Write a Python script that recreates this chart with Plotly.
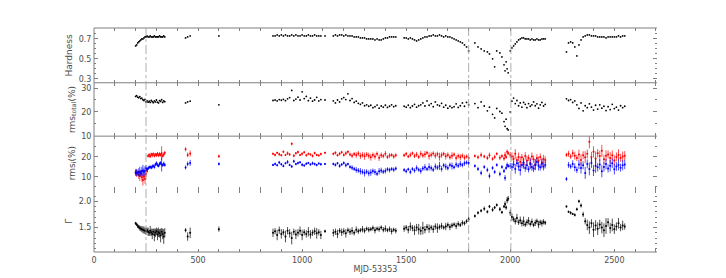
import plotly.graph_objects as go
from plotly.subplots import make_subplots

# ---------------- data ----------------
mjd = [
    200, 205, 210, 215, 220, 225, 230, 235, 240, 245, 250, 255, 260, 265, 270, 275, 280, 285, 290, 295,
    300, 305, 310, 315, 320, 325, 330, 335, 340,
    440, 450, 462,
    600,
    860, 870, 880, 890, 900, 910, 920, 930, 940, 950, 960, 970, 980, 990, 1000, 1010, 1020, 1030, 1040,
    1050, 1060, 1070, 1080, 1090,
    1110,
    1150, 1160, 1170, 1180, 1190, 1200, 1210, 1220, 1230, 1240, 1250, 1260, 1270, 1280, 1290, 1300,
    1310, 1320, 1330, 1340, 1350, 1360, 1370, 1380, 1390, 1400, 1410, 1420, 1430, 1440, 1450,
    1490, 1500, 1510, 1520, 1530, 1540, 1550, 1560, 1570, 1580, 1590, 1600, 1610, 1620, 1630, 1640,
    1650, 1660, 1670, 1680, 1690, 1700, 1710, 1720, 1730, 1740, 1750, 1760, 1770, 1780, 1790, 1800,
    1830, 1845, 1860, 1875, 1890, 1900, 1915, 1925, 1935, 1950, 1960, 1970, 1975, 1980, 1985, 1990,
    2000, 2008, 2016, 2024, 2032, 2040, 2048, 2056, 2064, 2072, 2080, 2088, 2096, 2104, 2112, 2120,
    2128, 2136, 2144, 2152, 2160, 2168,
    2270, 2280, 2290, 2300, 2310, 2320, 2330, 2340, 2350, 2360, 2370, 2380, 2390, 2400, 2410, 2420,
    2430, 2440, 2450, 2460, 2470, 2480, 2490, 2500, 2510, 2520, 2530, 2540, 2550,
]

hardness = [
    0.63, 0.64, 0.66, 0.67, 0.68, 0.69, 0.70, 0.70, 0.71, 0.72, 0.72, 0.73, 0.72, 0.72, 0.73, 0.72, 0.72, 0.72, 0.73, 0.72,
    0.72, 0.72, 0.72, 0.73, 0.72, 0.72, 0.72, 0.73, 0.72,
    0.71, 0.72, 0.73,
    0.73,
    0.73, 0.73, 0.74, 0.73, 0.74, 0.73, 0.74, 0.73, 0.73, 0.74, 0.73, 0.74, 0.73, 0.73, 0.74, 0.73, 0.73, 0.74, 0.73,
    0.73, 0.74, 0.73, 0.73, 0.73,
    0.73,
    0.73, 0.74, 0.73, 0.74, 0.74, 0.73, 0.74, 0.73, 0.73, 0.73, 0.72, 0.72, 0.72, 0.71, 0.71, 0.71,
    0.70, 0.70, 0.70, 0.70, 0.69, 0.70, 0.69, 0.69, 0.70, 0.71, 0.71, 0.72, 0.72, 0.72, 0.72,
    0.71, 0.71, 0.70, 0.71, 0.70, 0.69, 0.68, 0.69, 0.70, 0.71, 0.72, 0.72, 0.73, 0.73, 0.74, 0.73,
    0.73, 0.74, 0.73, 0.72, 0.73, 0.72, 0.72, 0.71, 0.70, 0.69, 0.68, 0.67, 0.66, 0.64, 0.62, 0.58,
    0.66, 0.62, 0.60, 0.58, 0.57, 0.55, 0.50, 0.42, 0.58, 0.56, 0.52, 0.44, 0.38, 0.47, 0.40, 0.36,
    0.58, 0.61, 0.63, 0.65, 0.67, 0.69, 0.70, 0.71, 0.71, 0.70, 0.70, 0.70, 0.69, 0.70, 0.69, 0.69,
    0.70, 0.69, 0.69, 0.70, 0.70, 0.70,
    0.57, 0.66, 0.67, 0.66, 0.62, 0.53, 0.64, 0.69, 0.72, 0.73, 0.74, 0.74, 0.73, 0.73, 0.73, 0.72,
    0.72, 0.72, 0.72, 0.71, 0.72, 0.72, 0.72, 0.72, 0.72, 0.73, 0.72, 0.73, 0.73,
]

rms_total = [
    26.5, 26.8, 26.2, 25.9, 26.4, 25.6, 25.8, 25.1, 24.8, 25.3, 24.2, 24.6, 24.1, 24.5, 24.0, 24.8, 24.3, 23.9, 24.6, 24.2,
    25.0, 24.1, 23.8, 24.7, 24.4, 25.1, 24.0, 24.6, 24.3,
    23.8, 24.2, 24.5,
    23.0,
    24.8, 25.0, 24.6, 25.2, 24.9, 25.3, 24.7, 25.5, 26.0, 29.0, 24.8, 25.4, 26.2, 25.0, 28.4, 25.6, 26.5, 24.7, 25.8,
    24.5, 25.0, 26.1, 24.6, 25.2,
    25.0,
    24.6, 23.8, 25.0, 24.2, 25.5, 26.0, 25.2, 27.6, 24.8, 25.6, 24.0, 24.5, 23.6, 23.2, 23.8, 22.6,
    23.0, 22.4, 22.8, 21.8, 22.2, 22.9, 21.6, 22.5, 22.0, 22.8, 21.9, 22.4, 23.0, 22.2, 22.6,
    22.4, 22.0, 22.8, 21.8, 22.5, 23.2, 22.0, 22.6, 23.0, 23.8, 22.5, 24.6, 22.8, 23.5, 22.2, 24.2,
    23.0, 22.6, 23.6, 22.0, 22.8, 21.6, 22.4, 21.8, 22.2, 23.4, 21.9, 22.6, 23.8, 22.4, 24.0, 23.0,
    23.5, 21.8, 24.2, 22.5, 20.5, 22.0, 19.0, 17.5, 21.5, 20.2, 19.5, 16.0, 14.0, 17.0, 13.0, 12.5,
    20.0, 24.5, 25.8, 23.5, 24.8, 22.6, 23.8, 22.0, 24.0, 23.2, 21.8, 23.5, 22.4, 23.0, 24.2, 22.6,
    23.4, 21.6, 23.0, 24.0, 22.5, 23.2,
    25.5, 24.8, 25.2, 24.0, 24.6, 23.0, 21.5, 23.8, 20.5, 22.6, 21.8, 23.4, 22.0, 20.8, 22.8, 21.2,
    23.0, 21.6, 22.4, 20.6, 22.2, 21.0, 23.2, 21.4, 22.0, 20.8, 22.6, 21.8, 22.4,
]

rms_hard = [
    12.5, 11.8, 12.2, 11.0, 10.5, 11.6, 9.8, 8.5, 10.2, 9.0, 11.5, 13.0, 20.5, 21.0, 20.2, 21.3, 20.8, 21.5, 20.6, 21.2,
    20.9, 21.6, 20.7, 21.4, 21.0, 21.8, 20.5, 21.2, 22.0,
    23.8, 21.0, 21.7,
    20.3,
    21.5, 21.0, 22.0, 21.3, 20.8, 22.5, 21.0, 21.8, 21.2, 26.5, 20.6, 21.8, 22.4, 20.9, 21.5, 22.3, 20.8, 21.6, 21.2,
    20.5, 21.9, 21.0, 20.7, 21.4,
    22.0,
    21.5, 22.0, 20.8, 21.6, 22.3, 21.0, 21.8, 22.5, 21.2, 20.6, 21.4, 20.9, 21.7, 20.5, 21.0, 20.3,
    21.2, 20.6, 19.8, 20.9, 20.2, 21.5, 19.6, 20.8, 20.4, 21.6, 19.9, 20.7, 21.0, 20.2, 20.8,
    20.8, 21.5, 20.2, 21.0, 21.8, 20.5, 21.2, 20.0, 21.6, 20.7, 21.3, 22.0, 20.4, 21.0, 21.7, 20.6,
    21.4, 20.1, 20.9, 21.5, 20.3, 21.0, 19.8, 20.6, 21.2, 19.5, 20.4, 19.8, 20.6, 19.6, 20.2, 19.4,
    20.5, 19.8, 21.0, 20.2, 19.5, 20.8, 19.0, 20.0, 21.5, 19.6, 20.4, 19.2, 21.0, 20.0, 22.5, 21.8,
    21.0, 20.2, 19.0, 21.5, 18.5, 20.0, 17.5, 19.8, 16.5, 20.5, 18.2, 19.5, 17.0, 20.2, 18.8, 16.2,
    19.5, 18.0, 20.0, 17.2, 19.0, 18.5,
    21.0, 21.5, 20.2, 21.8, 20.6, 19.5, 21.2, 18.5, 20.8, 19.8, 21.5, 27.5, 20.0, 22.5, 19.2, 21.8,
    20.5, 23.0, 18.8, 20.6, 21.2, 19.5, 20.8, 18.2, 20.0, 21.0, 19.5, 20.2, 20.6,
]

rms_soft = [
    12.0, 12.2, 11.8, 12.3, 12.6, 12.0, 12.8, 13.2, 12.5, 13.0, 14.5, 13.8, 14.2, 14.8, 15.0, 14.6, 15.2, 15.5, 15.0, 16.2,
    16.8, 16.0, 15.5, 16.5, 17.0, 16.2, 15.8, 16.6, 16.0,
    14.7, 16.5, 17.0,
    16.5,
    16.0, 16.5, 15.8, 17.2, 16.3, 15.5, 16.8, 17.5, 16.0, 15.2, 17.8, 16.4, 16.9, 17.3, 16.1, 15.7, 16.6, 17.0, 16.2,
    16.8, 16.4, 15.9, 16.7, 16.3,
    16.5,
    16.5, 16.0, 16.8, 15.5, 16.2, 17.0, 15.8, 16.4, 15.0, 14.6, 14.0, 13.5, 13.2, 12.8, 12.5, 12.0,
    12.6, 11.8, 12.2, 12.9, 12.4, 11.6, 12.8, 13.2, 12.6, 13.0, 13.8, 13.4, 14.0, 13.6, 14.2,
    13.5, 12.8, 13.8, 12.5, 14.0, 13.2, 14.5, 13.6, 13.0, 14.2, 14.8, 13.9, 15.0, 14.4, 13.6, 15.2,
    14.6, 15.5, 14.0, 15.8, 15.1, 14.5, 16.0, 15.4, 14.8, 16.2, 15.6, 16.5, 15.9, 16.8, 17.2, 17.0,
    15.5, 14.0, 12.0, 15.0, 13.5, 10.5, 14.5, 12.5, 16.0, 11.5, 15.0, 13.0, 9.5, 14.5, 16.0, 15.5,
    15.5, 15.0, 16.2, 14.0, 16.8, 15.2, 13.5, 16.0, 17.2, 14.5, 15.8, 13.8, 16.5, 15.0, 14.2, 16.0,
    17.5, 15.4, 14.8, 16.6, 15.2, 16.0,
    9.0, 16.0, 15.2, 16.5, 14.8, 13.5, 16.2, 14.5, 15.8, 12.0, 16.5, 14.0, 17.0, 13.2, 15.5, 14.8,
    16.2, 12.8, 15.0, 16.4, 14.2, 15.6, 16.8, 13.8, 15.2, 16.0, 14.6, 15.8, 16.2,
]

rms_err = [
    1.5, 1.8, 1.2, 2.0, 2.5, 1.6, 2.2, 2.8, 1.8, 2.4, 1.5, 1.0, 0.8, 0.9, 0.7, 0.8, 1.0, 0.7, 0.9, 0.8,
    1.0, 0.9, 0.8, 1.0, 0.9, 3.5, 0.8, 1.0, 0.9,
    1.0, 1.2, 1.5,
    0.8,
    0.6, 0.7, 0.5, 0.8, 0.6, 0.7, 0.5, 0.9, 0.6, 0.7, 0.8, 0.6, 0.7, 0.5, 0.8, 0.6, 0.7, 0.5, 0.6,
    0.8, 0.7, 0.6, 0.5, 0.7,
    0.5,
    0.7, 0.8, 0.6, 0.9, 0.7, 0.8, 1.0, 0.7, 0.9, 1.2, 1.0, 1.4, 1.2, 1.6, 1.3, 1.8,
    1.2, 1.5, 1.7, 1.3, 1.5, 1.2, 1.6, 1.4, 1.1, 1.3, 1.0, 1.2, 0.9, 1.1, 1.0,
    0.9, 1.0, 0.8, 1.2, 0.9, 1.1, 1.3, 1.0, 1.4, 1.2, 1.6, 1.0, 1.8, 1.3, 1.1, 1.5,
    1.2, 2.0, 1.4, 1.1, 1.6, 1.3, 1.2, 1.7, 1.0, 1.4, 1.2, 1.5, 1.1, 1.3, 1.0, 1.2,
    0.8, 1.0, 1.2, 0.9, 1.1, 1.3, 0.9, 1.0, 0.8, 1.2, 0.9, 1.1, 1.4, 1.0, 1.2, 1.0,
    1.5, 2.0, 1.8, 2.4, 1.6, 2.2, 2.8, 1.7, 2.5, 1.9, 2.3, 1.6, 2.6, 2.0, 1.8, 2.7,
    1.9, 2.2, 1.7, 2.4, 2.0, 1.8,
    1.0, 1.5, 1.2, 1.8, 2.0, 1.6, 2.4, 2.8, 2.0, 3.0, 2.2, 3.2, 2.5, 2.8, 3.5, 2.1,
    2.6, 3.0, 2.3, 2.7, 2.0, 2.9, 2.4, 2.6, 2.2, 2.8, 2.0, 2.5, 2.3,
]

gamma = [
    1.58, 1.56, 1.53, 1.51, 1.49, 1.48, 1.47, 1.46, 1.45, 1.44, 1.43, 1.45, 1.42, 1.40, 1.44, 1.41, 1.38, 1.42, 1.36, 1.40,
    1.43, 1.37, 1.41, 1.39, 1.35, 1.42, 1.38, 1.33, 1.40,
    1.45, 1.33, 1.40,
    1.47,
    1.40, 1.43, 1.36, 1.45, 1.38, 1.41, 1.33, 1.44, 1.39, 1.30, 1.42, 1.37, 1.40, 1.44, 1.36, 1.41, 1.38, 1.42, 1.37,
    1.40, 1.43, 1.39, 1.41, 1.36,
    1.43,
    1.40, 1.42, 1.38, 1.44, 1.41, 1.43, 1.39, 1.45, 1.42, 1.44, 1.40, 1.46, 1.43, 1.45, 1.47, 1.44,
    1.48, 1.46, 1.47, 1.49, 1.45, 1.48, 1.47, 1.50, 1.46, 1.48, 1.45, 1.47, 1.43, 1.46, 1.44,
    1.48, 1.50, 1.46, 1.52, 1.49, 1.45, 1.50, 1.47, 1.44, 1.49, 1.46, 1.51, 1.48, 1.50, 1.47, 1.52,
    1.49, 1.51, 1.53, 1.50, 1.52, 1.55, 1.51, 1.54, 1.56, 1.53, 1.57, 1.55, 1.59, 1.58, 1.62, 1.66,
    1.72, 1.78, 1.82, 1.86, 1.80, 1.90, 1.84, 1.88, 1.93, 1.85, 1.79, 1.90, 1.95, 1.88, 2.02, 2.05,
    1.78, 1.70, 1.66, 1.62, 1.68, 1.60, 1.64, 1.58, 1.62, 1.56, 1.60, 1.63, 1.57, 1.61, 1.55, 1.59,
    1.62, 1.56, 1.60, 1.58, 1.61, 1.59,
    1.90, 1.80, 1.78, 1.76, 1.74, 1.85, 2.00, 1.92, 1.75, 1.62, 1.55, 1.50, 1.58, 1.46, 1.54, 1.48,
    1.56, 1.50, 1.45, 1.53, 1.60, 1.49, 1.55, 1.47, 1.52, 1.58, 1.50, 1.54, 1.52,
]

gamma_err = [
    0.03, 0.03, 0.04, 0.04, 0.05, 0.05, 0.06, 0.06, 0.07, 0.06, 0.07, 0.05, 0.08, 0.06, 0.09, 0.07, 0.10, 0.06, 0.12, 0.08,
    0.07, 0.11, 0.09, 0.08, 0.13, 0.07, 0.10, 0.14, 0.09,
    0.04, 0.08, 0.10,
    0.05,
    0.08, 0.06, 0.10, 0.07, 0.09, 0.06, 0.11, 0.07, 0.08, 0.12, 0.06, 0.09, 0.07, 0.08, 0.10, 0.06, 0.07, 0.09, 0.08,
    0.06, 0.07, 0.10, 0.06, 0.08,
    0.03,
    0.07, 0.06, 0.08, 0.05, 0.07, 0.06, 0.08, 0.05, 0.06, 0.07, 0.05, 0.06, 0.05, 0.04, 0.06, 0.05,
    0.04, 0.05, 0.04, 0.05, 0.06, 0.04, 0.05, 0.04, 0.05, 0.06, 0.04, 0.05, 0.06, 0.04, 0.05,
    0.06, 0.05, 0.07, 0.08, 0.06, 0.09, 0.07, 0.10, 0.08, 0.12, 0.07, 0.06, 0.08, 0.05, 0.07, 0.06,
    0.09, 0.05, 0.06, 0.04, 0.07, 0.05, 0.06, 0.05, 0.04, 0.06, 0.05, 0.04, 0.05, 0.04, 0.04, 0.05,
    0.03, 0.03, 0.03, 0.04, 0.03, 0.03, 0.04, 0.03, 0.03, 0.04, 0.03, 0.03, 0.05, 0.04, 0.06, 0.05,
    0.06, 0.07, 0.05, 0.06, 0.08, 0.05, 0.07, 0.06, 0.09, 0.05, 0.06, 0.07, 0.05, 0.06, 0.04, 0.06,
    0.05, 0.07, 0.05, 0.06, 0.05, 0.04,
    0.02, 0.02, 0.03, 0.02, 0.03, 0.03, 0.03, 0.04, 0.05, 0.06, 0.10, 0.12, 0.08, 0.14, 0.10, 0.12,
    0.09, 0.11, 0.13, 0.15, 0.08, 0.10, 0.12, 0.09, 0.08, 0.10, 0.07, 0.09, 0.06,
]

transition_mjd = [250, 1800, 2003]

x_label_values = [0, 500, 1000, 1500, 2000, 2500]

panel_titles = ["Hardness", "rms<sub>total</sub>(%)", "rms<sub>i</sub>(%)", "Γ"]
panel_ranges = [[0.26, 0.81], [9.9, 32.2], [3.35, 30.35], [1.036, 2.21]]
panel_ticks = [[0.3, 0.5, 0.7], [10, 20, 30], [10, 20], [1.5, 2.0]]
panel_ticktext = [["0.3", "0.5", "0.7"], ["10", "20", "30"], ["10", "20"], ["1.5", "2.0"]]
panel_minor = [0.05, 5, 5, 0.1]

for name, arr in [("hardness", hardness), ("rms_total", rms_total), ("rms_hard", rms_hard),
                  ("rms_soft", rms_soft), ("rms_err", rms_err), ("gamma", gamma), ("gamma_err", gamma_err)]:
    if len(arr) != len(mjd):
        raise ValueError(f"{name}: {len(arr)} vs mjd {len(mjd)}")

# ---------------- figure ----------------
AX = "#7f7f7f"
TXT = "#4d4d4d"
FONT = "DejaVu Sans"

fig = make_subplots(rows=4, cols=1, shared_xaxes=True, vertical_spacing=0)

fig.add_trace(go.Scatter(x=mjd, y=hardness, mode="markers",
                         marker=dict(color="black", size=1.8)), row=1, col=1)
fig.add_trace(go.Scatter(x=mjd, y=rms_total, mode="markers",
                         marker=dict(color="black", size=1.8)), row=2, col=1)
fig.add_trace(go.Scatter(x=mjd, y=rms_hard, mode="markers",
                         marker=dict(color="#ff0000", size=2),
                         error_y=dict(type="data", array=rms_err, color="#ff0000", thickness=0.7, width=0)),
              row=3, col=1)
fig.add_trace(go.Scatter(x=mjd, y=rms_soft, mode="markers",
                         marker=dict(color="#0000ff", size=2),
                         error_y=dict(type="data", array=rms_err, color="#0000ff", thickness=0.7, width=0)),
              row=3, col=1)
fig.add_trace(go.Scatter(x=mjd, y=gamma, mode="markers",
                         marker=dict(color="black", size=2),
                         error_y=dict(type="data", array=gamma_err, color="black", thickness=0.7, width=0)),
              row=4, col=1)

domains = [[0.7555, 1.0], [0.5172, 0.7555], [0.2758, 0.5172], [0.0, 0.2758]]

for i in range(4):
    r = i + 1
    fig.update_yaxes(row=r, col=1, domain=domains[i], range=panel_ranges[i],
                     tickvals=panel_ticks[i], ticktext=panel_ticktext[i],
                     ticks="inside", ticklen=4, tickwidth=1, tickcolor=AX,
                     minor=dict(dtick=panel_minor[i], ticks="inside", ticklen=2, tickcolor=AX),
                     showline=True, linecolor="rgba(0,0,0,0)", mirror="ticks",
                     showgrid=False, zeroline=False, automargin=False,
                     tickfont=dict(family=FONT, size=8, color=TXT),
                     title=dict(text=panel_titles[i], font=dict(family=FONT, size=9, color=TXT), standoff=4))
    fig.update_xaxes(row=r, col=1, range=[0, 2705], tickvals=x_label_values,
                     ticks="inside", ticklen=3, tickwidth=1, tickcolor=AX,
                     minor=dict(dtick=100, ticks="inside", ticklen=3, tickcolor=AX),
                     showline=True, linecolor="rgba(0,0,0,0)", mirror="ticks",
                     showgrid=False, zeroline=False, automargin=False,
                     tickfont=dict(family=FONT, size=8, color=TXT))

fig.update_xaxes(row=4, col=1, title=dict(text="MJD-53353", font=dict(family=FONT, size=8, color=TXT), standoff=2))

shapes = []
for yb in [1.0, 0.7555, 0.5172, 0.0]:
    shapes.append(dict(type="line", xref="paper", yref="paper", x0=0, x1=1, y0=yb, y1=yb,
                       line=dict(color=AX, width=1)))
shapes.append(dict(type="line", xref="paper", yref="paper", x0=0, x1=0, y0=0, y1=1,
                   line=dict(color=AX, width=1)))
for t in transition_mjd:
    shapes.append(dict(type="line", xref="x", yref="paper", x0=t, x1=t, y0=0, y1=1,
                       line=dict(color="#9a9a9a", width=0.8, dash="dashdot")))

# the page puts the figure 8 px in from the top-left corner, so margins are shifted accordingly
fig.update_layout(width=726, height=278, margin=dict(l=86, r=77, t=20, b=34),
                  plot_bgcolor="white", paper_bgcolor="white", showlegend=False,
                  shapes=shapes, font=dict(family=FONT, size=8, color=TXT))

fig.write_html("out.html")
